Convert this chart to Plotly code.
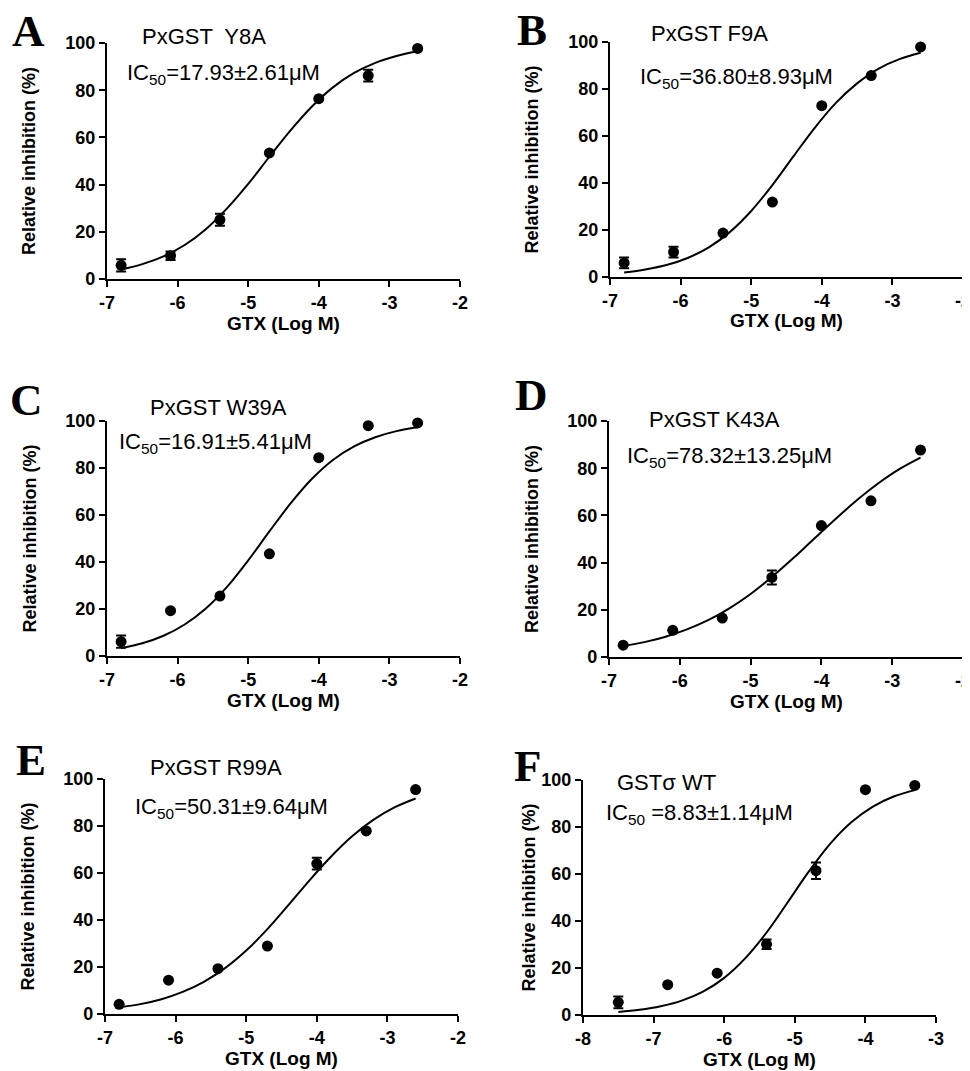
import plotly.graph_objects as go

# page is rendered with an 8px body margin: figure size chosen so it fills the window
OFF = 8
W, H = 970 - OFF, 1071 - OFF

# ---------------- data ----------------
x_mut = [-6.8, -6.1, -5.4, -4.7, -4.0, -3.3, -2.6]
x_wt = [-7.5, -6.8, -6.1, -5.4, -4.7, -4.0, -3.3]

curve_x_mut = [-6.8, -6.5, -6.2, -5.9, -5.6, -5.3, -5.0, -4.7, -4.4, -4.1, -3.8, -3.5, -3.2, -2.9, -2.6]
curve_x_wt = [-7.5, -7.2, -6.9, -6.6, -6.3, -6.0, -5.7, -5.4, -5.1, -4.8, -4.5, -4.2, -3.9, -3.6, -3.3]

y_A = [5.8, 9.9, 25.1, 53.4, 76.4, 86.2, 97.7]
e_A = [2.6, 1.8, 2.5, 0, 0, 2.5, 0]
c_A = [4.0, 6.3, 9.6, 14.4, 21.1, 29.9, 40.3, 51.8, 63.0, 73.0, 81.2, 87.3, 91.6, 94.5, 96.5]

y_B = [6.0, 10.6, 18.7, 31.9, 72.9, 85.7, 97.9]
e_B = [2.3, 2.3, 0, 0, 0, 0, 0]
c_B = [1.9, 3.2, 5.1, 8.1, 12.6, 19.2, 28.1, 39.1, 51.4, 63.5, 74.1, 82.4, 88.6, 92.7, 95.4]

y_C = [6.1, 19.3, 25.5, 43.5, 84.4, 98.0, 99.2]
e_C = [2.6, 0, 0, 0, 0, 0, 0]
c_C = [3.4, 5.4, 8.6, 13.4, 20.2, 29.4, 40.7, 53.0, 64.9, 75.3, 83.4, 89.2, 93.1, 95.7, 97.3]

y_D = [5.0, 11.3, 16.5, 33.7, 55.7, 66.2, 87.7]
e_D = [0, 0, 0, 3.0, 0, 0, 0]
c_D = [4.6, 6.3, 8.6, 11.7, 15.6, 20.6, 26.7, 33.9, 41.8, 50.2, 58.5, 66.4, 73.5, 79.6, 84.5]

y_E = [4.1, 14.4, 19.3, 28.9, 64.0, 77.9, 95.5]
e_E = [0, 0, 0, 0, 2.5, 0, 0]
c_E = [2.8, 4.2, 6.3, 9.4, 13.7, 19.5, 27.0, 36.1, 46.4, 57.0, 66.9, 75.6, 82.6, 87.9, 91.7]

y_F = [5.4, 12.9, 17.8, 30.1, 61.4, 95.9, 97.7]
e_F = [2.5, 0, 0, 2.0, 3.5, 0, 0]
c_F = [1.3, 2.2, 3.7, 6.1, 9.9, 15.8, 24.2, 35.1, 48.0, 61.1, 72.8, 82.0, 88.6, 93.0, 95.7]

x_ticks_mut = [-7, -6, -5, -4, -3, -2]
x_ticks_wt = [-8, -7, -6, -5, -4, -3]
y_ticks = [0, 20, 40, 60, 80, 100]

x_title = "GTX (Log M)"
y_title = "Relative inhibition (%)"

panels = [
    # letter, name, ic50 text, x, y, err, curve_x, curve_y, xticks, plot box px (x0, x1, ytop, ybottom)
    ("A", "PxGST  Y8A", "IC<sub>50</sub>=17.93±2.61μM", x_mut, y_A, e_A, curve_x_mut, c_A, x_ticks_mut, (107, 460, 43, 279)),
    ("B", "PxGST F9A", "IC<sub>50</sub>=36.80±8.93μM", x_mut, y_B, e_B, curve_x_mut, c_B, x_ticks_mut, (610, 963, 42, 277)),
    ("C", "PxGST W39A", "IC<sub>50</sub>=16.91±5.41μM", x_mut, y_C, e_C, curve_x_mut, c_C, x_ticks_mut, (107, 460, 421, 656)),
    ("D", "PxGST K43A", "IC<sub>50</sub>=78.32±13.25μM", x_mut, y_D, e_D, curve_x_mut, c_D, x_ticks_mut, (609, 963, 421, 657)),
    ("E", "PxGST R99A", "IC<sub>50</sub>=50.31±9.64μM", x_mut, y_E, e_E, curve_x_mut, c_E, x_ticks_mut, (105, 458, 779, 1014)),
    ("F", "GSTσ WT", "IC<sub>50</sub> =8.83±1.14μM", x_wt, y_F, e_F, curve_x_wt, c_F, x_ticks_wt, (583, 936, 780, 1015)),
]

# text positions (window px): letter (cx, cy), name (left, cy), ic50 (left, cy), y-title center x
text_pos = {
    "A": ((28, 31), (140, 37), (125, 74), 29),
    "B": ((532, 30), (649, 34), (638, 78), 532),
    "C": ((26, 400), (148, 408), (117, 443), 29),
    "D": ((531, 395), (647, 419), (625, 457), 532),
    "E": ((31, 760), (148, 767), (133, 808), 27),
    "F": ((528, 766), (615, 782), (604, 814), 528),
}

FONT = "Arial, 'Liberation Sans', sans-serif"
SERIF = "'Times New Roman', 'Liberation Serif', serif"


def px(x):
    return (x - OFF) / W


def py(y):
    return 1 - (y - OFF) / H


fig = go.Figure()
annotations = []
layout_axes = {}

for i, (letter, name, ic50, xs, ys, es, cx, cy, xt, box) in enumerate(panels, start=1):
    xa = "x" if i == 1 else f"x{i}"
    ya = "y" if i == 1 else f"y{i}"
    x0, x1, yt, yb = box
    fig.add_trace(go.Scatter(
        x=cx, y=cy, mode="lines", line=dict(color="black", width=2, shape="spline"),
        xaxis=xa, yaxis=ya, showlegend=False, hoverinfo="skip"))
    fig.add_trace(go.Scatter(
        x=xs, y=ys, mode="markers",
        marker=dict(color="black", size=11, symbol="circle"),
        error_y=dict(type="data", array=es, visible=True, color="black", thickness=2, width=5),
        cliponaxis=False, xaxis=xa, yaxis=ya, showlegend=False))

    xkey = "xaxis" if i == 1 else f"xaxis{i}"
    ykey = "yaxis" if i == 1 else f"yaxis{i}"
    common = dict(
        showline=True, linecolor="black", linewidth=2.3, ticks="outside",
        ticklen=6, tickwidth=2.3, tickcolor="black", showgrid=False, zeroline=False,
        automargin=False, ticklabeloverflow="allow",
        tickfont=dict(family=FONT, size=18, color="black", weight="bold"),
    )
    layout_axes[xkey] = dict(
        domain=[px(x0), min(px(x1), 1.0)], anchor=ya, range=[xt[0], xt[-1]],
        tickvals=xt, ticktext=[str(v) for v in xt], **common)
    layout_axes[ykey] = dict(
        domain=[py(yb), py(yt)], anchor=xa, range=[0, 100],
        tickvals=y_ticks, ticktext=[str(v) for v in y_ticks], **common)

    (lx, ly), (nx, ny), (ix, iy), ytx = text_pos[letter]
    annotations.append(dict(
        text=f"<b>{letter}</b>", x=px(lx), y=py(ly), xref="paper", yref="paper",
        xanchor="center", yanchor="middle", showarrow=False,
        font=dict(family=SERIF, size=45, color="black")))
    annotations.append(dict(
        text=name, x=px(nx), y=py(ny), xref="paper", yref="paper",
        xanchor="left", yanchor="middle", showarrow=False,
        font=dict(family=FONT, size=22, color="black")))
    annotations.append(dict(
        text=ic50, x=px(ix), y=py(iy), xref="paper", yref="paper",
        xanchor="left", yanchor="middle", showarrow=False,
        font=dict(family=FONT, size=22, color="black")))
    # axis titles
    annotations.append(dict(
        text=x_title, x=px((x0 + x1) / 2), y=py(yb + 44), xref="paper", yref="paper",
        xanchor="center", yanchor="middle", showarrow=False,
        font=dict(family=FONT, size=19, color="black", weight="bold")))
    annotations.append(dict(
        text=y_title, x=px(ytx), y=py((yt + yb) / 2), xref="paper", yref="paper",
        xanchor="center", yanchor="middle", showarrow=False, textangle=-90,
        font=dict(family=FONT, size=18, color="black", weight="bold")))

fig.update_layout(
    width=W, height=H,
    margin=dict(l=0, r=0, t=0, b=0),
    paper_bgcolor="white", plot_bgcolor="white",
    annotations=annotations,
    **layout_axes,
)

fig.write_html("out.html")
